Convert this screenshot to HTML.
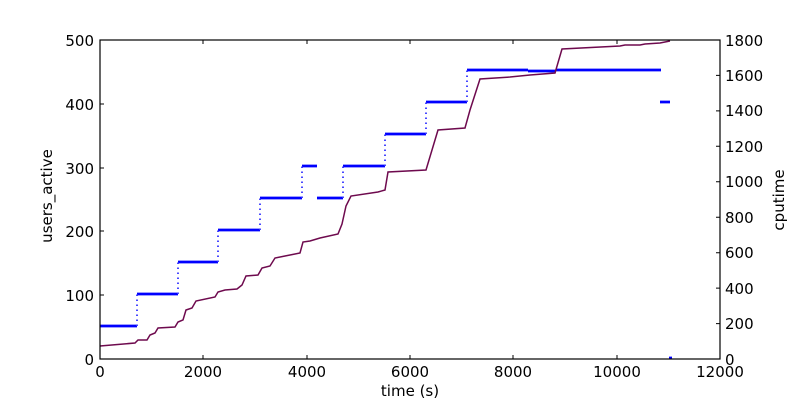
<!DOCTYPE html>
<html><head><meta charset="utf-8"><style>body{margin:0;background:#fff}svg{display:block}text{font-family:"DejaVu Sans","Liberation Sans",sans-serif;font-size:15px;fill:#000}</style></head><body>
<svg width="800" height="400" viewBox="0 0 800 400" xmlns="http://www.w3.org/2000/svg">
<rect width="800" height="400" fill="#fff"/>
<g stroke="#0000ff" stroke-width="2.8" fill="none">
<path d="M100 326H137M137 294H178M178 262H218M218 230H260M260 198H302M302 166H317M317 198H343M343 166H385M385 134H426M426 102H467M467 70H528M528 71H556M556 70H661M660 102H670M669 358H672"/>
</g>
<g stroke="#3333ff" stroke-width="1.8" stroke-dasharray="1.5 3.5" fill="none">
<path d="M137 326V294M178 294V262M218 262V230M260 230V198M302 198V166M343 198V166M385 166V134M426 134V102M467 102V70"/>
</g>
<polyline fill="none" stroke="#6e0a4e" stroke-width="1.5" points="100,346 135,343 138,340 147,340 150,335 155,333 158,328 175,327 178,322 183,320 186,310 192,308 196,301 215,297 218,292 225,290 237,289 242,285 246,276 258,275 262,268 270,266 275,258 285,256 300,253 303,242 310,241 320,238 338,234 342,224 346,206 351,196 378,192 385,190 388,172 426,170 432,150 438,130 465,128 470,110 480,79 510,77 530,75 555,73 562,49 620,46 625,45 640,45 645,44 660,43 670,41"/>
<rect x="100" y="40" width="620" height="319" fill="none" stroke="#000" stroke-width="1.2"/>
<g stroke="#000" stroke-width="1">
<path d="M203 359v-4M307 359v-4M410 359v-4M513 359v-4M617 359v-4M203 40v4M307 40v4M410 40v4M513 40v4M617 40v4"/>
<path d="M100 295h4M100 231h4M100 168h4M100 104h4"/>
<path d="M720 323.6h-4M720 288.1h-4M720 252.7h-4M720 217.2h-4M720 181.8h-4M720 146.3h-4M720 110.9h-4M720 75.4h-4"/>
</g>
<g text-anchor="middle">
<text x="100" y="377">0</text><text x="203" y="377">2000</text><text x="307" y="377">4000</text><text x="410" y="377">6000</text><text x="513" y="377">8000</text><text x="617" y="377">10000</text><text x="720" y="377">12000</text>
<text x="410" y="396">time (s)</text>
</g>
<g text-anchor="end">
<text x="94" y="365">0</text><text x="94" y="301">100</text><text x="94" y="237">200</text><text x="94" y="174">300</text><text x="94" y="110">400</text><text x="94" y="46">500</text>
</g>
<g text-anchor="start">
<text x="725" y="365">0</text><text x="725" y="329">200</text><text x="725" y="294">400</text><text x="725" y="258">600</text><text x="725" y="223">800</text><text x="725" y="187">1000</text><text x="725" y="152">1200</text><text x="725" y="116">1400</text><text x="725" y="81">1600</text><text x="725" y="46">1800</text>
</g>
<text transform="translate(52,196) rotate(-90)" text-anchor="middle">users_active</text>
<text transform="translate(784,200) rotate(-90)" text-anchor="middle">cputime</text>
</svg>
</body></html>
